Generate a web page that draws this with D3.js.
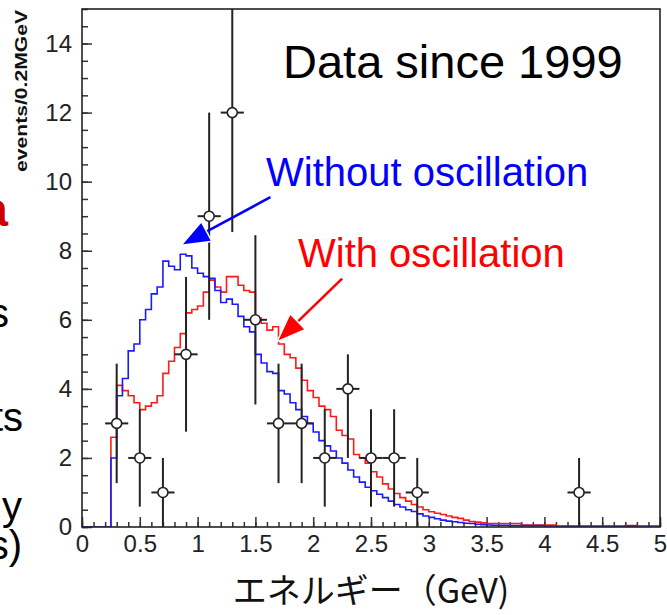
<!DOCTYPE html>
<html>
<head>
<meta charset="utf-8">
<script src="https://cdn.jsdelivr.net/npm/d3@7"></script>
<style>
  body { margin: 0; background: #fff; }
  svg { display: block; }
</style>
</head>
<body>
<svg id="vis" width="667" height="615"></svg>
<script>
// histogram bins are 0.05 GeV wide
const binWidth = 0.05;

// MC without oscillation, bins starting at 0.00 GeV
const noOscStart = 0;
const noOscValues = [
  0, 0, 0, 0, 0,
  2.0, 3.8, 4.3, 5.1, 5.3, 6.0, 6.3, 6.75, 6.95, 7.7,
  7.55, 7.45, 7.9, 7.85, 7.5, 7.35, 7.25, 7.2, 6.85, 6.5,
  6.6, 6.45, 6.1, 5.8, 5.65, 5.0, 4.75, 4.5, 4.45, 3.95,
  3.85, 3.6, 3.4, 3.2, 3.0, 2.75, 2.5, 2.35, 2.2, 2.0,
  1.85, 1.65, 1.45, 1.3, 1.15, 1.05, 0.95, 0.85, 0.75, 0.65,
  0.58, 0.5, 0.45, 0.38, 0.32, 0.28, 0.24, 0.2, 0.17, 0.15,
  0.13, 0.11, 0.1, 0.08, 0.07, 0.06, 0.05, 0.05, 0.05, 0.04,
  0.04, 0.04, 0.04, 0.04, 0.04, 0.03, 0.03, 0.03, 0.03, 0.03,
  0.03, 0.03, 0.03, 0.03, 0.03, 0.03, 0.03, 0.03, 0.03, 0.03,
  0.03, 0.03, 0.03, 0.03, 0.03
];

// MC with oscillation, bins starting at 0.25 GeV
const withOscStart = 0.25;
const withOscValues = [
  2.6, 4.1, 3.95, 3.8, 3.6, 3.4, 3.5, 3.6, 3.8, 4.45,
  4.8, 5.2, 5.6, 6.2, 6.3, 6.4, 6.8, 7.15, 6.95, 6.8,
  7.25, 7.25, 7.0, 6.85, 6.8, 6.05, 5.9, 5.7, 5.8, 5.3,
  5.0, 4.9, 4.6, 4.25, 3.95, 3.75, 3.5, 3.4, 3.2, 2.8,
  2.65, 2.55, 2.1, 2.0, 1.85, 1.6, 1.45, 1.25, 1.1, 0.97,
  0.85, 0.75, 0.65, 0.58, 0.5, 0.44, 0.4, 0.36, 0.32, 0.28,
  0.25, 0.2, 0.16, 0.14, 0.12, 0.1, 0.1, 0.1, 0.1, 0.1,
  0.1, 0.06, 0.06, 0.06, 0.06, 0.06, 0.06, 0, 0, 0,
  0, 0, 0, 0, 0, 0, 0, 0, 0, 0.04,
  0.04
];

// observed events (0.2 GeV bins)
const dataEnergy = [0.3, 0.5, 0.7, 0.9, 1.1, 1.3, 1.5, 1.7, 1.9, 2.1, 2.3, 2.5, 2.7, 2.9, 4.3];
const dataCounts = [3, 2, 1, 5, 9, 12, 6, 3, 3, 2, 4, 2, 2, 1, 1];
const dataErrUp = [1.73, 1.41, 1, 2.24, 3, 3.46, 2.45, 1.73, 1.73, 1.41, 1.0, 1.41, 1.41, 1, 1];
const dataErrDown = [1.73, 1.41, 1, 2.24, 3, 3.46, 2.45, 1.73, 1.73, 1.41, 2.0, 1.41, 1.41, 1, 1];
const dataHalfWidth = 0.1;

const xTickValues = [0, 0.5, 1, 1.5, 2, 2.5, 3, 3.5, 4, 4.5, 5];
const xTickLabels = ["0", "0.5", "1", "1.5", "2", "2.5", "3", "3.5", "4", "4.5", "5"];
const yTickValues = [0, 2, 4, 6, 8, 10, 12, 14];

// annotation arrows, in data units [energy, events]
const arrowTails = [[1.63, 9.55], [2.25, 7.19]];
const arrowTips = [[0.874, 8.19], [1.70, 5.41]];
const arrowColors = ["#0000ff", "#ff0000"];

const svg = d3.select("#vis");
const font = "'Liberation Sans', Arial, sans-serif";

const x = d3.scaleLinear().domain([0, 5]).range([82, 660]);
const y = d3.scaleLinear().domain([0, 15]).range([527, 9]);

svg.append("defs").append("clipPath")
  .attr("id", "plot-clip")
  .append("rect")
  .attr("x", x(0)).attr("y", y(15))
  .attr("width", x(5) - x(0)).attr("height", y(0) - y(15));

// axes: ticks point into the plot
svg.append("g")
  .attr("transform", `translate(${x(0)},0)`)
  .call(d3.axisLeft(y).tickValues(d3.range(0, 15.01, 0.5)).tickSizeInner(-6).tickSizeOuter(0).tickFormat(""));
const yMajor = svg.append("g")
  .attr("transform", `translate(${x(0)},0)`)
  .call(d3.axisLeft(y).tickValues(yTickValues).tickSizeInner(-10).tickSizeOuter(0).tickPadding(10));
yMajor.selectAll("text")
  .attr("font-family", font)
  .attr("font-size", 24)
  .attr("fill", "#222");

svg.append("g")
  .attr("transform", `translate(0,${y(0)})`)
  .call(d3.axisBottom(x).tickValues(d3.range(0, 5.001, 0.1)).tickSizeInner(-5).tickSizeOuter(0).tickFormat(""));
const xMajor = svg.append("g")
  .attr("transform", `translate(0,${y(0)})`)
  .call(d3.axisBottom(x).tickValues(xTickValues).tickSizeInner(-10).tickSizeOuter(0).tickPadding(8)
    .tickFormat((d, i) => xTickLabels[i]));
xMajor.selectAll("text")
  .attr("font-family", font)
  .attr("font-size", 24)
  .attr("fill", "#222");

svg.selectAll(".domain").remove();
svg.selectAll(".tick line").attr("stroke", "#333").attr("stroke-width", 1.5);

// MC histograms
const stepLine = d3.line()
  .x((d) => x(d[0]))
  .y((d) => y(d[1]))
  .curve(d3.curveStepAfter);

function histPoints(start, values) {
  const pts = [[start, 0]];
  values.forEach((v, i) => pts.push([start + i * binWidth, v]));
  const end = start + values.length * binWidth;
  pts.push([end, values[values.length - 1]]);
  pts.push([end, 0]);
  return pts;
}

const hist = svg.append("g").attr("clip-path", "url(#plot-clip)");
hist.append("path")
  .attr("d", stepLine(histPoints(withOscStart, withOscValues)))
  .attr("fill", "none")
  .attr("stroke", "#ff1a1a")
  .attr("stroke-width", 1.6);
hist.append("path")
  .attr("d", stepLine(histPoints(noOscStart, noOscValues)))
  .attr("fill", "none")
  .attr("stroke", "#1a1aff")
  .attr("stroke-width", 1.6);

// data points with error bars
const pts = svg.append("g").attr("clip-path", "url(#plot-clip)");
const points = dataEnergy.map((e, i) => ({
  e, n: dataCounts[i], up: dataErrUp[i], down: dataErrDown[i]
}));
pts.selectAll("line.v")
  .data(points)
  .join("line")
  .attr("class", "v")
  .attr("x1", (d) => x(d.e)).attr("x2", (d) => x(d.e))
  .attr("y1", (d) => y(d.n + d.up)).attr("y2", (d) => y(Math.max(0, d.n - d.down)))
  .attr("stroke", "#222").attr("stroke-width", 2);
pts.selectAll("line.h")
  .data(points)
  .join("line")
  .attr("class", "h")
  .attr("x1", (d) => x(d.e - dataHalfWidth)).attr("x2", (d) => x(d.e + dataHalfWidth))
  .attr("y1", (d) => y(d.n)).attr("y2", (d) => y(d.n))
  .attr("stroke", "#222").attr("stroke-width", 2);
pts.selectAll("circle")
  .data(points)
  .join("circle")
  .attr("cx", (d) => x(d.e)).attr("cy", (d) => y(d.n))
  .attr("r", 5)
  .attr("fill", "#fff")
  .attr("stroke", "#222")
  .attr("stroke-width", 1.6);

// frame
svg.append("rect")
  .attr("x", x(0)).attr("y", y(15))
  .attr("width", x(5) - x(0)).attr("height", y(0) - y(15))
  .attr("fill", "none")
  .attr("stroke", "#222")
  .attr("stroke-width", 1.6);

// arrows
arrowTails.forEach((tail, i) => {
  const x0 = x(tail[0]), y0 = y(tail[1]);
  const x1 = x(arrowTips[i][0]), y1 = y(arrowTips[i][1]);
  const ang = Math.atan2(y1 - y0, x1 - x0);
  const headLen = 26, headHalf = 10;
  const bx = x1 - headLen * Math.cos(ang), by = y1 - headLen * Math.sin(ang);
  const px = -Math.sin(ang) * headHalf, py = Math.cos(ang) * headHalf;
  const head = [[x1, y1], [bx + px, by + py], [bx - px, by - py]];
  const g = svg.append("g");
  g.append("line")
    .attr("x1", x0).attr("y1", y0).attr("x2", bx).attr("y2", by)
    .attr("stroke", arrowColors[i]).attr("stroke-width", 2.5);
  g.append("polygon")
    .attr("points", head.map((p) => p.join(",")).join(" "))
    .attr("fill", arrowColors[i])
    .attr("stroke", "#fff")
    .attr("stroke-width", 3)
    .attr("paint-order", "stroke");
});

// labels
svg.append("text")
  .attr("x", 283).attr("y", 78)
  .attr("font-family", font).attr("font-size", 47)
  .attr("fill", "#000")
  .text("Data since 1999");
svg.append("text")
  .attr("x", 266).attr("y", 186)
  .attr("font-family", font).attr("font-size", 40)
  .attr("fill", "#0000ff")
  .text("Without oscillation");
svg.append("text")
  .attr("x", 298).attr("y", 267)
  .attr("font-family", font).attr("font-size", 40)
  .attr("fill", "#ff0000")
  .text("With oscillation");

svg.append("text")
  .attr("transform", "translate(27,91) rotate(-90)")
  .attr("text-anchor", "middle")
  .attr("font-family", font).attr("font-size", 17).attr("font-weight", "bold")
  .attr("textLength", 162).attr("lengthAdjust", "spacingAndGlyphs")
  .attr("fill", "#111")
  .text("events/0.2MGeV");

svg.append("text")
  .attr("x", (x(0) + x(5)) / 2).attr("y", 603)
  .attr("text-anchor", "middle")
  .attr("font-family", "'Noto Sans CJK JP', sans-serif").attr("font-size", 34)
  .attr("fill", "#111")
  .text("エネルギー（GeV)");

// fragments of slide text cut off at the left edge
const fragments = [
  { t: "a", x: 8, y: 226, c: "#cc0000", w: "bold", s: 48 },
  { t: "s", x: 9, y: 327, c: "#000", w: "normal", s: 40 },
  { t: "ts", x: 23, y: 431, c: "#000", w: "normal", s: 40 },
  { t: "y", x: 22, y: 520, c: "#000", w: "normal", s: 40 },
  { t: "s)", x: 22, y: 559, c: "#000", w: "normal", s: 40 }
];
svg.append("g").selectAll("text")
  .data(fragments)
  .join("text")
  .attr("x", (d) => d.x).attr("y", (d) => d.y)
  .attr("text-anchor", "end")
  .attr("font-family", font)
  .attr("font-size", (d) => d.s)
  .attr("font-weight", (d) => d.w)
  .attr("fill", (d) => d.c)
  .text((d) => d.t);
</script>
</body>
</html>
